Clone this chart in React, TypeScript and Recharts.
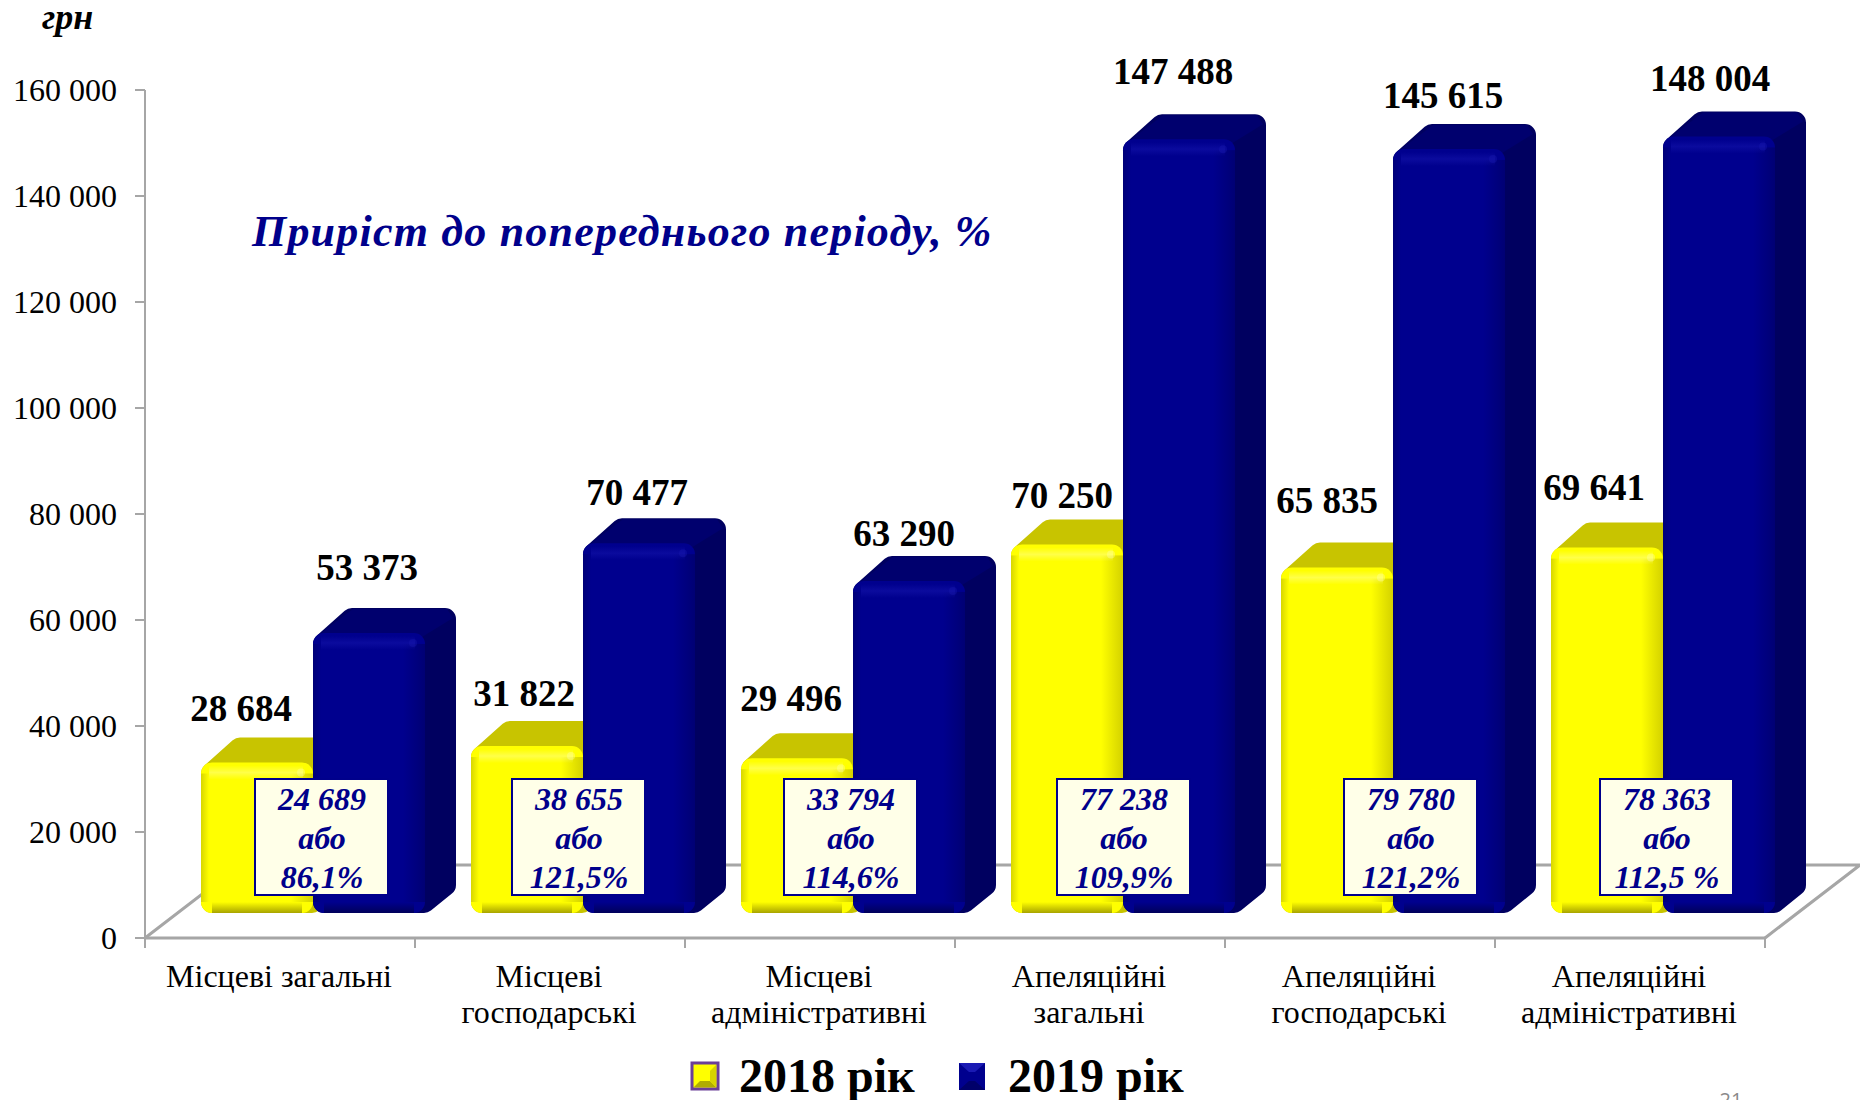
import { BarChart, Bar, XAxis, YAxis, Legend, LabelList } from 'recharts';

const categories = [
  'Місцеві загальні',
  'Місцеві\nгосподарські',
  'Місцеві\nадміністративні',
  'Апеляційні\nзагальні',
  'Апеляційні\nгосподарські',
  'Апеляційні\nадміністративні',
];
const values2018 = [28684, 31822, 29496, 70250, 65835, 69641];
const values2019 = [53373, 70477, 63290, 147488, 145615, 148004];
const growthAbs = ['24 689', '38 655', '33 794', '77 238', '79 780', '78 363'];
const growthPct = ['86,1%', '121,5%', '114,6%', '109,9%', '121,2%', '112,5 %'];
const yTicks = [0, 20000, 40000, 60000, 80000, 100000, 120000, 140000, 160000];

const chartData = categories.map((name, i) => ({
  name,
  y2018: values2018[i],
  y2019: values2019[i],
}));

// hand placed in the slide, so the labels and boxes do not follow a rule
const nudge2018 = [[-16, -53], [-3, -52], [-6, -59], [-5, -48], [-10, -67], [-13, -60]];
const nudge2019 = [[-2, -65], [-2, -50], [-5, -47], [-6, -67], [-6, -53], [-9, -57]];
const boxLeft = [255, 512, 784, 1057, 1344, 1600];

const SERIF = '"Liberation Serif", serif';
const AXIS_GRAY = '#a6a6a6';
const BAND = 270;
const SHIFT_X = 33; // bars stand further back on the floor than the axis
const LIFT = 25;
const DEPTH_X = 31;
const DEPTH_Y = 25;
const FORESHORTEN = 0.99; // boxes further back read a bit shorter than the wall scale

const fmt = (v: number) => String(v).replace(/\B(?=(\d{3})+$)/g, ' ');

function Bar3D({ x, y, width, height, palette }: any) {
  const fx = x + SHIFT_X;
  const base = y + height - LIFT;
  const h = height * FORESHORTEN;
  const top = base - h;
  const r = 11;
  const id = palette.id;
  return (
    <g>
      <defs>
        <linearGradient id={`${id}-bottom`} x1="0" y1="0" x2="0" y2="1">
          <stop offset="0" stopColor={palette.edge} stopOpacity="0" />
          <stop offset="1" stopColor={palette.edge} stopOpacity="1" />
        </linearGradient>
        <linearGradient id={`${id}-left`} x1="0" y1="0" x2="1" y2="0">
          <stop offset="0" stopColor={palette.edge} stopOpacity="0.45" />
          <stop offset="1" stopColor={palette.edge} stopOpacity="0" />
        </linearGradient>
        <linearGradient id={`${id}-right`} x1="0" y1="0" x2="1" y2="0">
          <stop offset="0" stopColor={palette.edge} stopOpacity="0" />
          <stop offset="1" stopColor={palette.edge} stopOpacity="0.5" />
        </linearGradient>
        <linearGradient id={`${id}-hi`} x1="0" y1="0" x2="0" y2="1">
          <stop offset="0" stopColor={palette.light} stopOpacity="0" />
          <stop offset="0.5" stopColor={palette.light} stopOpacity="0.45" />
          <stop offset="1" stopColor={palette.light} stopOpacity="0" />
        </linearGradient>
      </defs>
      {/* silhouette: right side of the box */}
      <polygon
        points={`${fx + r},${top + r} ${fx + DEPTH_X + r - 3},${top - DEPTH_Y + r} ${fx + width + DEPTH_X - r},${top - DEPTH_Y + r} ${fx + width + DEPTH_X - r},${base - DEPTH_Y - 3} ${fx + width - 1},${base - r} ${fx + r},${base - r}`}
        fill={palette.side}
        stroke={palette.side}
        strokeWidth={r * 2}
        strokeLinejoin="round"
      />
      {/* top face */}
      <polygon
        points={`${fx + 3},${top + 4} ${fx + DEPTH_X + 9},${top - DEPTH_Y + 1} ${fx + width + DEPTH_X - 9},${top - DEPTH_Y + 1} ${fx + width + DEPTH_X - 3},${top - DEPTH_Y + 10} ${fx + width - 3},${top + 4}`}
        fill={palette.top}
      />
      {/* front face with soft bevel */}
      <rect x={fx} y={top} width={width} height={h} rx={r} fill={palette.front} />
      <rect x={fx} y={top + r} width={8} height={h - 2 * r} fill={`url(#${id}-left)`} />
      <rect x={fx + width - 22} y={top + r} width={22} height={h - 2 * r} fill={`url(#${id}-right)`} />
      <rect x={fx + r} y={base - 11} width={width - 2 * r} height={11} fill={`url(#${id}-bottom)`} />
      <rect x={fx + 8} y={top + 3} width={width - 18} height={14} fill={`url(#${id}-hi)`} />
      <circle cx={fx + width - 12} cy={top + 10} r={4} fill={palette.light} opacity={0.4} />
    </g>
  );
}

const yellow = {
  id: 'yel', front: '#ffff00', top: '#c8c400', side: '#c8c400',
  edge: '#a8a400', light: '#ffffa0',
};
const blue = {
  id: 'blu', front: '#00008e', top: '#00006e', side: '#000060',
  edge: '#00005a', light: '#1818b0',
};

function barLabel(nudge: number[][]) {
  return ({ x, y, width, height, value, index }: any) => (
    <text
      x={x + width / 2 + SHIFT_X + nudge[index][0]}
      y={y + height * (1 - FORESHORTEN) - LIFT + nudge[index][1] + 12}
      textAnchor="middle"
      fontFamily={SERIF}
      fontWeight="bold"
      fontSize={37}
      fill="#000"
    >
      {fmt(value)}
    </text>
  );
}

function CategoryTick({ x, payload, index }: any) {
  const lines = String(payload.value).split('\n');
  const axisY = 938;
  return (
    <g>
      <line x1={x - BAND / 2} x2={x - BAND / 2} y1={axisY} y2={axisY + 10} stroke={AXIS_GRAY} strokeWidth={2} />
      {index === categories.length - 1 && (
        <line x1={x + BAND / 2} x2={x + BAND / 2} y1={axisY} y2={axisY + 10} stroke={AXIS_GRAY} strokeWidth={2} />
      )}
      {lines.map((line, i) => (
        <text key={i} x={x - 1} y={987 + i * 36} textAnchor="middle" fontFamily={SERIF} fontSize={32} fill="#000">
          {line}
        </text>
      ))}
    </g>
  );
}

function Floor() {
  return (
    <polyline
      points="145,938 240,865 1860,865 1765,938"
      fill="none"
      stroke={AXIS_GRAY}
      strokeWidth={3}
    />
  );
}

// separate svg on top, the chart paints its bars above its own children
function Annotations() {
  return (
    <svg
      width={1860}
      height={1100}
      style={{ position: 'absolute', left: 0, top: 0, pointerEvents: 'none' }}
      fontFamily={SERIF}
    >
      {boxLeft.map((left, i) => (
        <g key={i}>
          <rect x={left} y={779} width={133} height={116} fill="#ffffe8" stroke="#00008b" strokeWidth={2} />
          <g fontWeight="bold" fontStyle="italic" fontSize={32} fill="#00008b" textAnchor="middle">
            <text x={left + 67} y={810}>{growthAbs[i]}</text>
            <text x={left + 67} y={849}>або</text>
            <text x={left + 67} y={888}>{growthPct[i]}</text>
          </g>
        </g>
      ))}
      <text x={252} y={246} fill="#00008b" fontWeight="bold" fontStyle="italic" fontSize={44} letterSpacing={1.2}>
        Приріст до попереднього періоду, %
      </text>
      <text x={42} y={29} fontWeight="bold" fontStyle="italic" fontSize={36} fill="#000">грн</text>
      <text x={1731} y={1107} fontFamily='"Open Sans", sans-serif' fontSize={20} fill="#8a8a8a" textAnchor="middle">21</text>
    </svg>
  );
}

function LegendRow() {
  return (
    <div style={{ position: 'relative', width: 1860, height: 54, fontFamily: SERIF, fontWeight: 'bold', fontSize: 48, lineHeight: '60px' }}>
      <svg width={1860} height={54} style={{ position: 'absolute', left: 0, top: 0 }}>
        <rect x={692} y={17} width={26} height={26} fill="#ffff00" stroke="#6b3f98" strokeWidth={3} />
        <polygon points="694,41 700,35 710,35 716,41" fill="#b0ac00" />
        <polygon points="710,25 716,19 716,41 710,35" fill="#d8d400" />
        <rect x={959} y={17} width={26} height={27} fill="#00008e" />
        <polygon points="959,17 985,17 975,26 969,26" fill="#1a1ab4" />
        <polygon points="959,44 985,44 975,35 969,35" fill="#00006a" />
      </svg>
      <span style={{ position: 'absolute', left: 739, top: 0 }}>2018 рік</span>
      <span style={{ position: 'absolute', left: 1008, top: 0 }}>2019 рік</span>
    </div>
  );
}

export default function App() {
  return (
    <div style={{ position: 'absolute', left: 0, top: 0, width: 1860, height: 1100, background: '#fff', overflow: 'hidden' }}>
      <BarChart
        width={1860}
        height={1100}
        data={chartData}
        margin={{ top: 90, right: 95, bottom: 0, left: 0 }}
        barSize={112}
        barGap={0}
        style={{ overflow: 'visible' }}
      >
        <Floor />
        <XAxis
          dataKey="name"
          height={162}
          interval={0}
          tickLine={false}
          stroke={AXIS_GRAY}
          strokeWidth={3}
          tick={<CategoryTick />}
        />
        <YAxis
          width={145}
          domain={[0, 160000]}
          ticks={yTicks}
          interval={0}
          tickFormatter={fmt}
          tickSize={10}
          tickMargin={18}
          stroke={AXIS_GRAY}
          strokeWidth={2}
          tick={{ fontFamily: SERIF, fontSize: 32, fill: '#000' }}
        />
        <Bar
          dataKey="y2018"
          name="2018 рік"
          fill="#ffff00"
          isAnimationActive={false}
          shape={(p: any) => <Bar3D {...p} palette={yellow} />}
        >
          <LabelList dataKey="y2018" content={barLabel(nudge2018)} />
        </Bar>
        <Bar
          dataKey="y2019"
          name="2019 рік"
          fill="#00008e"
          isAnimationActive={false}
          shape={(p: any) => <Bar3D {...p} palette={blue} />}
        >
          <LabelList dataKey="y2019" content={barLabel(nudge2019)} />
        </Bar>
        <Legend
          verticalAlign="middle"
          align="center"
          content={<LegendRow />}
          wrapperStyle={{ left: 0, top: 1046, width: 1860, height: 54 }}
        />
      </BarChart>
      <Annotations />
    </div>
  );
}
